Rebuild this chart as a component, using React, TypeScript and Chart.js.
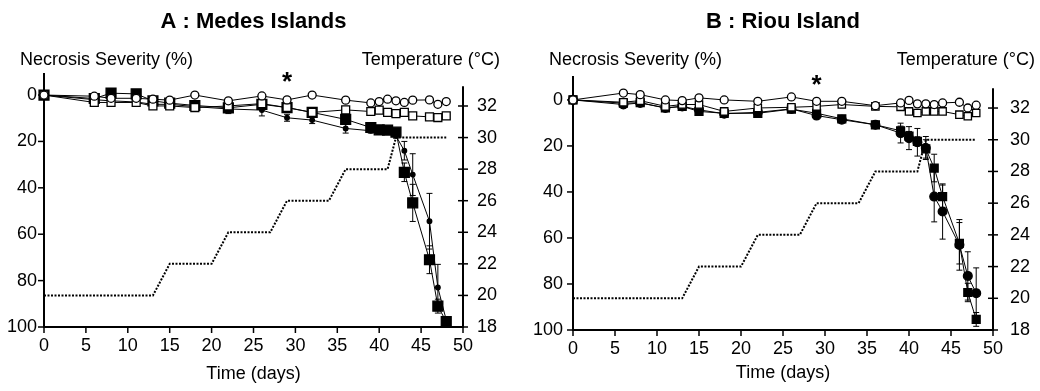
import React, { useEffect, useRef } from "react";
import { Chart, registerables } from "chart.js";
Chart.register(...registerables);

// ---------- data ----------
const DAYS = [0, 6, 8, 11, 13, 15, 18, 22, 26, 29, 32, 36, 39, 40, 41, 42, 43, 44, 46, 47, 48];

const TEMP_DAYS = [0, 13, 15, 20, 22, 27, 29, 34, 36, 41, 42, 48];
const TEMP_VALUES = [20, 20, 22, 22, 24, 24, 26, 26, 28, 28, 30, 30];

const X_TICKS = [0, 5, 10, 15, 20, 25, 30, 35, 40, 45, 50];
const NECROSIS_TICKS = [0, 20, 40, 60, 80, 100];
const TEMP_TICKS = [18, 20, 22, 24, 26, 28, 30, 32];
const STAR_DAY = 29;

// Panel A : Medes Islands
const A_OPEN_CIRCLE = [0, 0.5, 1.4, 1.4, 1.8, 2.2, 0, 2.5, 0.4, 2.1, 0, 2.2, 3.4, 2.8, 1.8, 2.5, 3.2, 2.2, 2.1, 4, 2.8];
const A_OPEN_SQUARE = [0, 3.2, 3.2, 3.2, 4.7, 4.7, 5.4, 4.7, 3.7, 5.4, 7.5, 6.4, 7.1, 6.5, 7.5, 8, 7.5, 9, 9.4, 9.7, 9];
const A_FILLED_SQUARE = [0, 1.5, -0.8, -0.5, 2.5, 3.5, 4.5, 5.5, 4, 5.4, 7.5, 10.5, 14, 15, 15.1, 16, 33.3, 46.5, 71, 91, 97.7];
const A_FILLED_SQUARE_ERR = [0, 0, 0, 0, 0, 0, 0, 0, 0, 0, 0, 0, 0, 0, 0, 0, 4, 8, 6, 3, 1];
const A_FILLED_DOT = [0, 2, 2.5, 3, 4, 4, 5, 6, 6.5, 9.8, 10.8, 14.4, 15.4, 16, 16, 17.6, 24, 34.3, 54.4, 83, 97];
const A_FILLED_DOT_ERR = [0, 0, 0, 0, 0, 0, 0, 2, 2.5, 1.5, 1.5, 2, 1, 1, 1, 1, 4, 9, 12, 10, 0];

// Panel B : Riou Island
const B_OPEN_CIRCLE = [0, -3, -2.3, 0, 0.3, -0.9, 0, 0.6, -1.3, 0.6, 0.6, 2.5, 1.3, 0.2, 1.7, 1.7, 2, 1.3, 1, 3.5, 2.3];
const B_OPEN_SQUARE = [0, 1, 0.3, 2.8, 2, 2, 5, 3.5, 3.2, 2.8, 2, 2.8, 3, 5, 5.7, 5, 5, 5, 6.4, 7.1, 5.7];
const B_FILLED_CIRCLE = [0, 2, 1.3, 3.5, 2.8, 4.3, 6, 5.4, 3.9, 6.8, 8.6, 10.8, 14.4, 16.6, 18.4, 20.9, 42, 48.5, 63, 76.5, 84];
const B_FILLED_CIRCLE_ERR = [0, 0, 0, 0, 0, 0, 0, 0, 0, 0, 0, 0, 4.3, 5, 6, 5, 11, 12, 11, 10.5, 11];
const B_FILLED_SQUARE = [0, 1.4, 1.2, 3.5, 2.8, 5, 5.8, 5.8, 4, 5.8, 8.2, 10.8, 13.4, 15.7, 18, 21.3, 29.6, 42, 62.3, 83.7, 95.4];
const B_FILLED_SQUARE_ERR = [0, 0, 0, 0, 0, 0, 0, 0, 0, 0, 0, 0, 2, 2, 2, 4, 6, 5, 9, 4, 3];

const FONT = "'Liberation Sans', Arial, Helvetica, sans-serif";

type Series = {
  values: number[];
  errors?: number[];
  style: "circle" | "rect";
  radius: number;
  fill: string;
};

type Panel = {
  title: string;
  yMin: number;
  tMax: number;
  padTop: number;
  leftW: number;
  rightW: number;
  bottomH: number;
  leftPad: number;
  rightPad: number;
  xPad: number;
  tempTitleOffset: number;
  timeBaseline: number;
  series: Series[];
};

const PANEL_A: Panel = {
  title: "A : Medes Islands",
  yMin: -9.5,
  tMax: 34.09,
  padTop: 73,
  leftW: 44,
  rightW: 57,
  bottomH: 64,
  leftPad: 7,
  rightPad: 14,
  xPad: 8,
  tempTitleOffset: 37,
  timeBaseline: 379,
  series: [
    { values: A_OPEN_CIRCLE, style: "circle", radius: 4, fill: "#fff" },
    { values: A_OPEN_SQUARE, style: "rect", radius: 5.6, fill: "#fff" },
    { values: A_FILLED_SQUARE, errors: A_FILLED_SQUARE_ERR, style: "rect", radius: 7, fill: "#000" },
    { values: A_FILLED_DOT, errors: A_FILLED_DOT_ERR, style: "circle", radius: 2.3, fill: "#000" },
  ],
};

const PANEL_B: Panel = {
  title: "B : Riou Island",
  yMin: -10.4,
  tMax: 34.02,
  padTop: 76,
  leftW: 53,
  rightW: 47,
  bottomH: 61,
  leftPad: 10,
  rightPad: 17,
  xPad: 8,
  tempTitleOffset: 42,
  timeBaseline: 378,
  series: [
    { values: B_OPEN_CIRCLE, style: "circle", radius: 4, fill: "#fff" },
    { values: B_OPEN_SQUARE, style: "rect", radius: 5.2, fill: "#fff" },
    { values: B_FILLED_SQUARE, errors: B_FILLED_SQUARE_ERR, style: "rect", radius: 5.6, fill: "#000" },
    { values: B_FILLED_CIRCLE, errors: B_FILLED_CIRCLE_ERR, style: "circle", radius: 4.4, fill: "#000" },
  ],
};

const RIGHT_AXIS_TOP = 33.25;

function line(ctx: CanvasRenderingContext2D, x1: number, y1: number, x2: number, y2: number) {
  ctx.beginPath();
  ctx.moveTo(x1, y1);
  ctx.lineTo(x2, y2);
  ctx.stroke();
}

function makeChart(canvas: HTMLCanvasElement, panel: Panel) {
  const datasets: any[] = panel.series.map((s) => ({
    type: "line",
    data: DAYS.map((d, i) => ({ x: d, y: s.values[i] })),
    errors: s.errors,
    yAxisID: "y",
    borderColor: "#000",
    borderWidth: 1,
    tension: 0,
    clip: false,
    pointStyle: s.style,
    pointRadius: s.radius,
    pointBackgroundColor: s.fill,
    pointBorderColor: "#000",
    pointBorderWidth: 1.3,
  }));
  datasets.push({
    type: "line",
    data: TEMP_DAYS.map((d, i) => ({ x: d, y: TEMP_VALUES[i] })),
    yAxisID: "yT",
    borderColor: "#000",
    borderWidth: 2,
    borderDash: [2, 1.5],
    pointRadius: 0,
    tension: 0,
    clip: false,
  });

  const overlay = {
    id: "overlay",
    beforeDatasetsDraw(chart: any) {
      const ctx: CanvasRenderingContext2D = chart.ctx;
      const { left, right, top, bottom } = chart.chartArea;
      const xs = chart.scales.x;
      const ys = chart.scales.y;
      const yt = chart.scales.yT;
      ctx.save();
      ctx.strokeStyle = "#000";
      ctx.lineWidth = 2;
      line(ctx, left, top, left, bottom + 1);
      line(ctx, left - 1, bottom, right + 1, bottom);
      line(ctx, right, yt.getPixelForValue(RIGHT_AXIS_TOP), right, bottom);
      ctx.lineWidth = 1.5;
      NECROSIS_TICKS.forEach((v) => {
        const y = ys.getPixelForValue(v);
        line(ctx, left - 6, y, left, y);
      });
      X_TICKS.forEach((v) => {
        const x = xs.getPixelForValue(v);
        line(ctx, x, bottom, x, bottom + 6);
      });
      TEMP_TICKS.forEach((v) => {
        const y = yt.getPixelForValue(v);
        line(ctx, right - 5, y, right + 5, y);
      });
      // error bars
      ctx.lineWidth = 1;
      chart.data.datasets.forEach((ds: any) => {
        const errs: number[] | undefined = ds.errors;
        if (!errs) return;
        ds.data.forEach((p: any, i: number) => {
          const e = errs[i];
          if (!e) return;
          const x = xs.getPixelForValue(p.x);
          const y1 = ys.getPixelForValue(p.y - e);
          const y2 = ys.getPixelForValue(p.y + e);
          line(ctx, x, y1, x, y2);
          line(ctx, x - 3, y1, x + 3, y1);
          line(ctx, x - 3, y2, x + 3, y2);
        });
      });
      ctx.restore();
    },
    afterDraw(chart: any) {
      const ctx: CanvasRenderingContext2D = chart.ctx;
      const { left, right, top } = chart.chartArea;
      const cx = (left + right) / 2;
      ctx.save();
      ctx.fillStyle = "#000";
      ctx.textBaseline = "alphabetic";
      ctx.font = `bold 22px ${FONT}`;
      ctx.textAlign = "center";
      ctx.fillText(panel.title, cx, 28);
      ctx.font = `18px ${FONT}`;
      ctx.textAlign = "left";
      ctx.fillText("Necrosis Severity (%)", left - 24, 64.5);
      ctx.textAlign = "right";
      ctx.fillText("Temperature (°C)", right + panel.tempTitleOffset, 64.5);
      ctx.textAlign = "center";
      ctx.fillText("Time (days)", cx, panel.timeBaseline);
      ctx.font = `bold 26px ${FONT}`;
      ctx.fillText("*", chart.scales.x.getPixelForValue(STAR_DAY), top + 17);
      ctx.restore();
    },
  };

  const tickFont = { family: FONT, size: 18 };

  return new Chart(canvas, {
    type: "line",
    data: { datasets },
    plugins: [overlay],
    options: {
      responsive: false,
      animation: false,
      layout: { padding: { top: panel.padTop, left: 0, right: 0, bottom: 0 } },
      plugins: { legend: { display: false }, tooltip: { enabled: false }, title: { display: false } },
      scales: {
        x: {
          type: "linear",
          min: 0,
          max: 50,
          grid: { display: false, drawTicks: false },
          border: { display: false },
          ticks: { font: tickFont, color: "#000", padding: panel.xPad, maxRotation: 0, autoSkip: false },
          afterBuildTicks: (s: any) => {
            s.ticks = X_TICKS.map((v) => ({ value: v }));
          },
          afterFit: (s: any) => {
            s.height = panel.bottomH;
          },
        },
        y: {
          type: "linear",
          position: "left",
          reverse: true,
          min: panel.yMin,
          max: 100,
          grid: { display: false, drawTicks: false },
          border: { display: false },
          ticks: { font: tickFont, color: "#000", padding: panel.leftPad },
          afterBuildTicks: (s: any) => {
            s.ticks = NECROSIS_TICKS.map((v) => ({ value: v }));
          },
          afterFit: (s: any) => {
            s.width = panel.leftW;
          },
        },
        yT: {
          type: "linear",
          position: "right",
          min: 18,
          max: panel.tMax,
          grid: { display: false, drawTicks: false },
          border: { display: false },
          ticks: { font: tickFont, color: "#000", padding: panel.rightPad },
          afterBuildTicks: (s: any) => {
            s.ticks = TEMP_TICKS.map((v) => ({ value: v }));
          },
          afterFit: (s: any) => {
            s.width = panel.rightW;
          },
        },
      },
    } as any,
  });
}

export default function App() {
  const refA = useRef<HTMLCanvasElement>(null);
  const refB = useRef<HTMLCanvasElement>(null);
  useEffect(() => {
    const a = makeChart(refA.current!, PANEL_A);
    const b = makeChart(refB.current!, PANEL_B);
    return () => {
      a.destroy();
      b.destroy();
    };
  }, []);
  return (
    <div style={{ position: "absolute", left: 0, top: 0, width: 1040, height: 391, background: "#fff" }}>
      <canvas ref={refA} width={520} height={391} style={{ position: "absolute", left: 0, top: 0 }} />
      <canvas ref={refB} width={520} height={391} style={{ position: "absolute", left: 520, top: 0 }} />
    </div>
  );
}
